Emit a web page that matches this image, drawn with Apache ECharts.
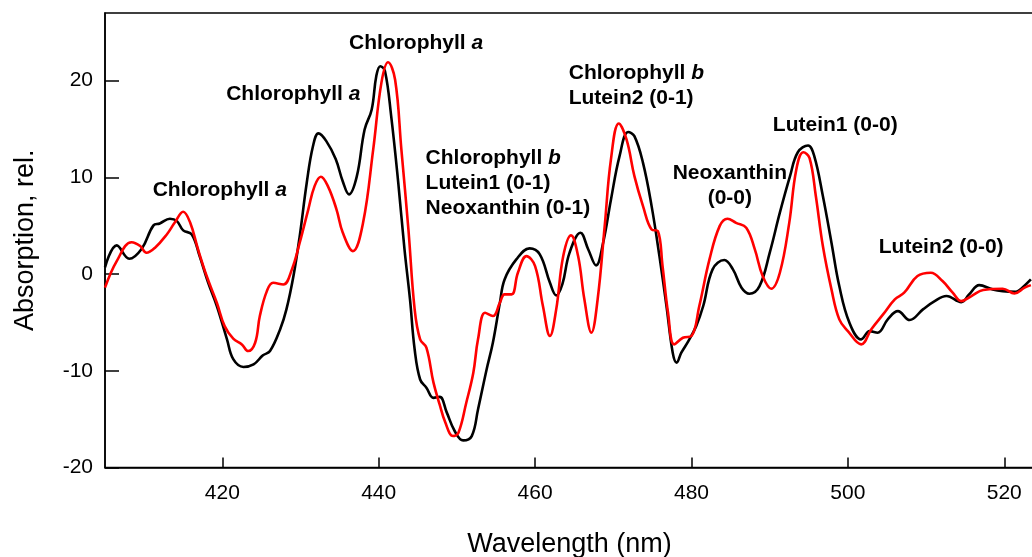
<!DOCTYPE html>
<html>
<head>
<meta charset="utf-8">
<script src="https://cdn.jsdelivr.net/npm/echarts@6/dist/echarts.min.js"></script>
<style>
html,body{margin:0;padding:0;background:#fff;}
#c{width:1032px;height:557px;}
</style>
</head>
<body>
<div id="c"></div>
<script>
// ---- data ----
const blackX = [405.0,406.5,408.1,409.7,411.2,412.0,413.3,414.2,415.0,416.1,417.1,418.2,419.3,420.6,421.4,422.7,424.0,425.2,426.1,427.4,428.2,429.1,429.9,430.8,431.6,432.3,433.3,434.5,435.4,436.2,437.2,438.2,439.1,439.7,440.2,440.8,441.6,442.5,443.3,444.0,444.6,445.3,446.1,447.0,447.8,448.7,449.7,450.8,451.9,452.7,453.8,454.6,455.5,456.1,457.6,459.3,460.6,461.9,462.7,463.5,464.4,465.8,466.8,467.8,468.7,469.7,470.8,471.9,472.7,473.8,474.9,475.9,476.8,477.6,478.1,478.7,479.6,480.6,481.5,482.7,484.2,485.3,486.4,487.4,488.7,490.0,491.3,492.6,493.6,494.9,495.7,496.8,497.9,498.9,500.2,501.7,502.8,503.8,505.1,506.4,507.9,509.6,511.1,512.6,514.5,515.5,516.8,518.5,519.8,521.5,522.3,523.4];
const blackY = [0.7,2.97,1.59,2.63,5.04,5.24,5.73,5.48,4.52,4.1,1.86,-0.9,-3.3,-6.75,-8.8,-9.6,-9.34,-8.4,-7.96,-5.7,-3.65,-0.2,3.93,9.45,13.24,14.55,13.75,11.9,9.6,8.24,10.1,14.96,17.0,20.5,21.5,21.0,16.3,9.45,2.55,-2.6,-7.8,-10.9,-11.75,-12.8,-12.7,-14.3,-16.2,-17.2,-16.75,-14.0,-9.86,-7.1,-2.96,-0.55,1.52,2.66,2.04,-0.9,-2.2,-1.0,2.2,4.28,2.55,0.9,3.25,7.7,12.2,14.7,14.27,11.5,7.03,1.86,-3.3,-8.13,-9.16,-8.13,-6.93,-5.38,-3.3,0.49,1.45,0.49,-1.41,-2.03,-1.24,2.2,6.35,10.13,12.6,13.3,12.2,8.07,3.25,-1.24,-5.03,-6.75,-5.9,-6.06,-4.68,-3.83,-4.75,-3.65,-2.79,-2.27,-2.9,-2.1,-1.14,-1.58,-1.76,-1.82,-1.4,-0.55];

const redX = [405.0,406.5,408.4,409.5,410.3,411.4,412.9,413.9,415.0,415.9,416.9,418.0,419.3,420.3,421.4,422.5,423.3,424.2,424.8,425.7,426.5,427.8,428.9,429.9,431.0,431.8,432.6,433.5,434.6,435.4,436.7,438.0,439.3,440.35,441.2,442.1,442.9,443.8,444.6,445.3,446.1,447.0,447.8,448.5,449.5,450.2,451.2,452.1,452.7,453.6,454.6,455.5,456.1,457.0,457.8,458.9,460.0,461.0,461.9,462.7,463.6,464.6,465.5,466.3,467.2,468.0,468.9,469.7,470.7,471.7,472.7,473.8,474.9,475.7,476.3,477.0,477.8,478.9,480.0,481.0,482.3,483.6,484.6,485.7,487.0,488.1,489.1,490.2,491.3,492.5,493.4,494.3,495.1,495.9,496.8,497.9,498.9,500.0,501.7,503.0,504.5,506.0,507.2,508.9,510.6,512.1,513.4,514.5,515.8,517.3,519.8,521.3,522.6,523.4];
const redY = [-1.4,1.34,3.3,2.9,2.2,2.73,4.1,5.3,6.45,5.3,2.55,-0.2,-2.96,-5.38,-6.68,-7.27,-7.96,-7.1,-4.34,-1.76,-0.9,-1.07,0.49,3.25,6.7,9.1,10.07,9.1,6.7,4.3,2.38,5.3,12.9,19.8,21.9,20.1,12.9,4.62,-3.65,-6.75,-7.6,-11.2,-13.5,-15.3,-16.75,-16.4,-13.3,-10.2,-6.75,-4.0,-4.34,-2.96,-2.1,-2.1,0.14,1.86,0.83,-3.3,-6.4,-3.65,1.86,4.0,1.86,-2.6,-6.06,-2.6,4.96,11.86,15.58,13.9,10.13,7.03,4.62,4.45,0.83,-4.0,-7.27,-6.58,-6.4,-3.3,1.52,4.96,5.73,5.3,4.8,2.55,-0.2,-1.51,0.14,5.3,10.8,12.6,12.0,8.07,2.9,-1.58,-4.68,-5.9,-7.27,-5.7,-4.17,-2.62,-1.92,-0.2,0.14,-0.72,-1.92,-2.79,-2.27,-1.65,-1.51,-2.0,-1.4,-1.14];

const xTicks = [420, 440, 460, 480, 500, 520];
const yTicks = [-20, -10, 0, 10, 20];

// annotations: [wavelength, absorption] of first line anchor, lines, align
const annoPos = [[411.1, 8.7], [420.5, 18.6], [436.2, 23.9], [446.0, 11.95], [464.3, 20.73], [484.9, 10.4], [490.4, 15.4], [503.95, 2.81]];
const annoText = [
  '{b|Chlorophyll }{i|a}',
  '{b|Chlorophyll }{i|a}',
  '{b|Chlorophyll }{i|a}',
  '{b|Chlorophyll }{i|b}\n{b|Lutein1 (0-1)}\n{b|Neoxanthin (0-1)}',
  '{b|Chlorophyll }{i|b}\n{b|Lutein2 (0-1)}',
  '{b|Neoxanthin}\n{b|(0-0)}',
  '{b|Lutein1 (0-0)}',
  '{b|Lutein2 (0-0)}'
];
const annoAlign = ['left','left','left','left','left','center','left','left'];

// ---- chart ----
const FONT = '"Liberation Sans", Arial, Helvetica, sans-serif';
const chart = echarts.init(document.getElementById('c'), null, {renderer: 'canvas', width: 1032, height: 557});

const zip = (xs, ys) => xs.map((x, i) => [x, ys[i]]);

chart.setOption({
  animation: false,
  backgroundColor: '#fff',
  grid: {left: 105, right: -2, top: 13, bottom: 89.5, containLabel: false, outerBoundsMode: 'none',
         show: true, borderColor: '#000', borderWidth: 1.5, backgroundColor: 'transparent'},
  xAxis: {
    type: 'value', min: 405, max: 523.8,
    name: 'Wavelength (nm)', nameLocation: 'middle', nameGap: 64,
    nameTextStyle: {fontSize: 27, color: '#000', fontFamily: FONT},
    axisLine: {show: true, onZero: false, lineStyle: {color: '#000', width: 1.5}},
    axisTick: {show: true, inside: true, length: 10, customValues: xTicks, lineStyle: {color: '#000', width: 1.5}},
    axisLabel: {customValues: xTicks, fontSize: 21, color: '#000', margin: 15, fontFamily: FONT},
    splitLine: {show: false}
  },
  yAxis: {
    type: 'value', min: -20, max: 27,
    name: 'Absorption, rel.', nameLocation: 'middle', nameGap: 66,
    nameTextStyle: {fontSize: 27, color: '#000', fontFamily: FONT},
    axisLine: {show: true, onZero: false, lineStyle: {color: '#000', width: 1.5}},
    axisTick: {show: true, inside: true, length: 14, customValues: yTicks, lineStyle: {color: '#000', width: 1.5}},
    axisLabel: {customValues: yTicks, fontSize: 21, color: '#000', margin: 12, fontFamily: FONT},
    splitLine: {show: false}
  },
  series: [
    {type: 'line', data: zip(blackX, blackY), smooth: 0.4, showSymbol: false, symbol: 'none',
     lineStyle: {color: '#000', width: 2.6}, clip: true},
    {type: 'line', data: zip(redX, redY), smooth: 0.4, showSymbol: false, symbol: 'none',
     lineStyle: {color: '#ff0000', width: 2.6}, clip: true}
  ]
});

const LH = 25;
const graphics = annoPos.map((p, i) => {
  const px = chart.convertToPixel({gridIndex: 0}, p);
  return {
    type: 'text', x: px[0], y: px[1] - LH / 2, z: 100,
    style: {
      text: annoText[i],
      align: annoAlign[i], verticalAlign: 'top',
      fill: '#000',
      rich: {
        b: {fontSize: 21, fontWeight: 'bold', fontFamily: FONT, lineHeight: LH, fill: '#000'},
        i: {fontSize: 21, fontWeight: 'bold', fontStyle: 'italic', fontFamily: FONT, lineHeight: LH, fill: '#000'}
      }
    }
  };
});
chart.setOption({graphic: graphics});
</script>
</body>
</html>
